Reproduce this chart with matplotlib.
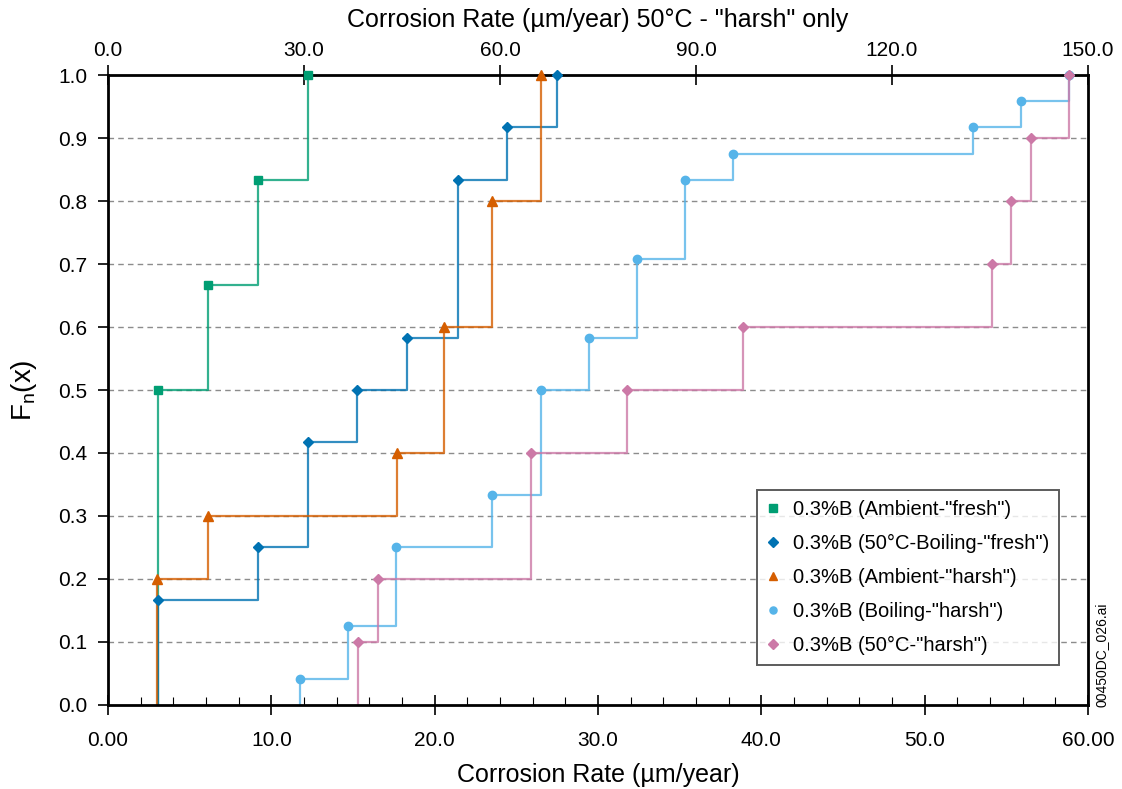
import numpy as np
import matplotlib
matplotlib.use('Agg')
import matplotlib.pyplot as plt
from matplotlib.lines import Line2D

plt.rcParams['font.family'] = ['Liberation Sans', 'DejaVu Sans']

amb_fresh_x = [3.06, 6.12, 9.18, 12.25]
amb_fresh_f = [0.5, 0.667, 0.833, 1.0]

boil_fresh_x = [3.06, 9.18, 12.23, 15.25, 18.3, 21.4, 24.4, 27.5]
boil_fresh_f = [0.167, 0.25, 0.417, 0.5, 0.583, 0.833, 0.917, 1.0]

amb_harsh_x = [3.0, 6.12, 17.7, 20.6, 23.5, 26.5]
amb_harsh_f = [0.2, 0.3, 0.4, 0.6, 0.8, 1.0]

boiling_harsh_x = [11.76, 14.7, 17.6, 23.5, 26.5, 29.45, 32.4, 35.3, 38.26, 52.98, 55.9, 58.85]
boiling_harsh_f = [0.042, 0.125, 0.25, 0.333, 0.5, 0.583, 0.708, 0.833, 0.875, 0.917, 0.958, 1.0]

c50_harsh_x = [15.3, 16.5, 25.9, 31.8, 38.85, 54.1, 55.3, 56.5, 58.85]
c50_harsh_f = [0.1, 0.2, 0.4, 0.5, 0.6, 0.7, 0.8, 0.9, 1.0]

labels = ['0.3%B (Ambient-"fresh")', '0.3%B (50°C-Boiling-"fresh")',
          '0.3%B (Ambient-"harsh")', '0.3%B (Boiling-"harsh")', '0.3%B (50°C-"harsh")']
colors = ['#009E73', '#0072B2', '#D55E00', '#56B4E9', '#CC79A7']
markers = ['s', 'D', '^', 'o', 'D']
msizes = [6, 5.5, 7.5, 6, 5.5]

bottom_ticks = [0, 10, 20, 30, 40, 50, 60]
bottom_labels = ['0.00', '10.0', '20.0', '30.0', '40.0', '50.0', '60.00']
top_ticks = [0, 30, 60, 90, 120, 150]
y_ticks = np.arange(0, 1.01, 0.1)

series = [(amb_fresh_x, amb_fresh_f), (boil_fresh_x, boil_fresh_f),
          (amb_harsh_x, amb_harsh_f), (boiling_harsh_x, boiling_harsh_f),
          (c50_harsh_x, c50_harsh_f)]

fig = plt.figure(figsize=(11.22, 7.89), dpi=100)
ax = fig.add_axes([0.0963, 0.1065, 0.8734, 0.7984])

for yv in y_ticks[1:-1]:
    ax.axhline(yv, color='#8c8c8c', lw=1.0, ls=(0, (4, 3)), zorder=1)

for (x, f), c, m, ms in zip(series, colors, markers, msizes):
    ax.step(np.r_[x[0], x], np.r_[0, f], where='post', color=c, lw=1.6, alpha=0.8, zorder=2)
    ax.plot(x, f, ls='none', marker=m, color=c, ms=ms, mec=c, zorder=3, clip_on=False)

ax.set_xlim(0, 60)
ax.set_ylim(0, 1.0)
ax.set_xticks(bottom_ticks)
ax.set_xticklabels(bottom_labels, fontsize=15)
ax.set_xticks(np.arange(0, 61, 2), minor=True)
ax.set_yticks(y_ticks)
ax.set_yticklabels(['%.1f' % v for v in y_ticks], fontsize=15)
ax.tick_params(axis='x', which='major', direction='inout', length=14, width=1.2, pad=12)
ax.tick_params(axis='x', which='minor', direction='in', length=6, width=0.8)
ax.tick_params(axis='y', which='major', direction='out', length=7, width=1.2, pad=8)
for s in ax.spines.values():
    s.set_linewidth(2.0)

ax.set_xlabel('Corrosion Rate (µm/year)', fontsize=18, labelpad=9)
ax.set_ylabel('F$_\\mathregular{n}$(x)', fontsize=20, labelpad=14)

top = ax.secondary_xaxis('top', functions=(lambda v: v * 2.5, lambda v: v / 2.5))
top.set_xticks(top_ticks)
top.set_xticklabels(['%.1f' % v for v in top_ticks], fontsize=15)
top.tick_params(direction='inout', length=14, width=1.2, pad=4)
top.set_xlabel('Corrosion Rate (µm/year) 50°C - "harsh" only', fontsize=18, labelpad=10)

handles = [Line2D([], [], ls='none', marker=m, color=c, ms=ms * 0.85)
           for c, m, ms in zip(colors, markers, msizes)]
leg = ax.legend(handles, labels, loc='lower left', bbox_to_anchor=(0.662, 0.063),
                fontsize=14.5, frameon=True, fancybox=False, handlelength=0.6,
                handletextpad=0.7, labelspacing=0.75, borderpad=0.5, borderaxespad=0)
leg.get_frame().set_edgecolor('#333333')
leg.get_frame().set_linewidth(1.4)

fig.text(0.982, 0.17, '00450DC_026.ai', rotation=90, fontsize=10, ha='center', va='center')

fig.savefig('out.png', dpi=100)
